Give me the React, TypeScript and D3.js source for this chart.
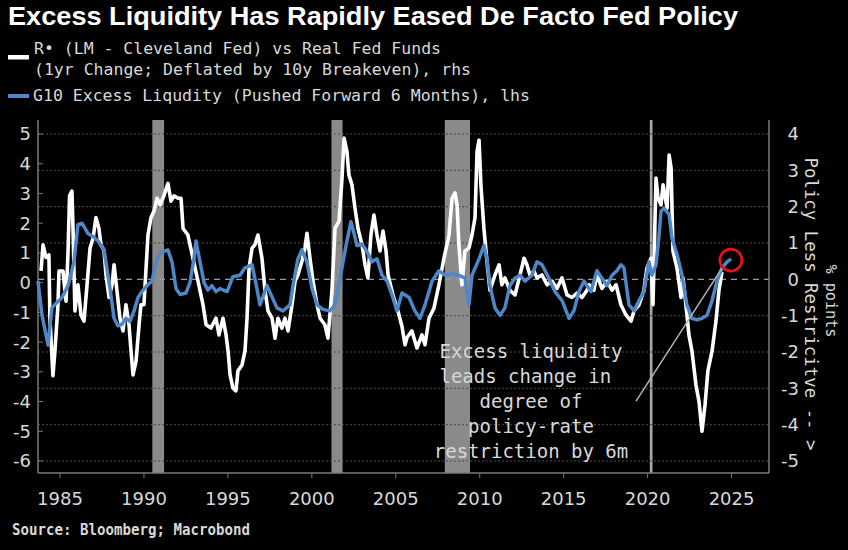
import React from "react";
import * as d3 from "d3";

const W = 848;
const H = 550;

const titleText = "Excess Liquidity Has Rapidly Eased De Facto Fed Policy";
const legendWhiteLines = ["R• (LM - Cleveland Fed) vs Real Fed Funds", "(1yr Change; Deflated by 10y Breakeven), rhs"];
const legendBlueText = "G10 Excess Liqudity (Pushed Forward 6 Months), lhs";
const sourceText = "Source: Bloomberg; Macrobond";
const annotationLines = ["Excess liquidity", "leads change in ", "degree of", "policy-rate", "restriction by 6m"];
const rightTitle = "Policy Less Restricitve -- >";
const rightUnit = "% points";

const yearTicks = [1985, 1990, 1995, 2000, 2005, 2010, 2015, 2020, 2025];
const leftTicks = [5, 4, 3, 2, 1, 0, -1, -2, -3, -4, -5, -6];
const rightTicks = [4, 3, 2, 1, 0, -1, -2, -3, -4, -5];

const recessionStarts = [1990.5, 2001.17, 2007.92, 2020.13];
const recessionEnds = [1991.2, 2001.83, 2009.42, 2020.29];

// G10 excess liquidity (pushed forward 6 months), left axis
const liquidityDates = [
  1983.69, 1983.93, 1984.29, 1984.52, 1984.76, 1985.12, 1985.48, 1985.83, 1986.07, 1986.31,
  1986.67, 1986.97, 1987.26, 1987.62, 1987.98, 1988.22, 1988.45, 1988.69, 1988.93, 1989.17,
  1989.41, 1989.65, 1989.88, 1990.18, 1990.48, 1990.72, 1990.96, 1991.19, 1991.43, 1991.67,
  1991.91, 1992.15, 1992.5, 1992.74, 1992.98, 1993.1, 1993.34, 1993.58, 1993.81, 1994.05,
  1994.29, 1994.53, 1994.95, 1995.3, 1995.72, 1996.02, 1996.44, 1996.73, 1996.91, 1997.33,
  1997.92, 1998.28, 1998.7, 1998.88, 1999.17, 1999.41, 1999.71, 2000.01, 2000.31, 2000.66,
  2001.08, 2001.38, 2001.68, 2002.09, 2002.33, 2002.45, 2002.69, 2002.99, 2003.28, 2003.58,
  2003.88, 2004.18, 2004.48, 2004.83, 2005.07, 2005.37, 2005.79, 2006.14, 2006.44, 2006.74,
  2007.16, 2007.57, 2007.93, 2008.35, 2008.76, 2009.12, 2009.36, 2009.54, 2009.96, 2010.25,
  2010.43, 2010.61, 2010.91, 2011.21, 2011.5, 2011.8, 2012.1, 2012.4, 2012.7, 2013.11,
  2013.41, 2013.71, 2014.12, 2014.48, 2014.9, 2015.32, 2015.61, 2015.91, 2016.21, 2016.63,
  2016.98, 2017.28, 2017.58, 2017.88, 2018.17, 2018.41, 2018.59, 2018.89, 2019.19, 2019.49,
  2019.78, 2020.08, 2020.26, 2020.5, 2020.68, 2020.8, 2020.98, 2021.28, 2021.45, 2021.75,
  2022.05, 2022.34, 2022.64, 2022.94, 2023.24, 2023.54, 2023.84, 2024.13, 2024.43, 2024.73,
  2024.97,
];
const liquidityValues = [
  0.05, -1.1, -2.1, -0.85, -0.7, -0.5, -0.1, 0.7, 1.95, 2.0,
  1.65, 1.55, 1.4, 1.1, -0.2, -1.2, -1.45, -1.4, -1.2, -1.3,
  -0.95, -0.5, -0.3, -0.1, 0.05, 0.7, 1.0, 1.05, 1.1, 0.7,
  -0.2, -0.4, -0.35, 0.0, 0.8, 1.4, 0.7, 0.0, -0.25, -0.1,
  -0.3, -0.2, -0.3, 0.2, 0.25, 0.5, 0.6, -0.2, -0.75, -0.1,
  -0.85, -0.95, -0.75, -0.1, 0.8, 1.1, 0.7, -0.2, -0.75, -0.9,
  -0.95, -0.75, 0.15, 1.4, 2.05, 1.8, 1.25, 1.3, 1.05, 0.7,
  0.8, 0.25, 0.05, -0.5, -0.95, -0.35, -0.5, -0.95, -1.2, -0.75,
  0.05, 0.4, 0.25, 0.3, 0.25, 0.15, -0.75, 0.25, 0.8, 1.25,
  0.8, -0.1, -0.85, -1.1, -0.85, -0.1, 0.15, 0.25, 0.05, 0.25,
  0.7, 0.6, 0.15, -0.3, -0.6, -1.2, -0.95, -0.3, 0.05, -0.3,
  0.4, 0.15, -0.1, 0.25, 0.4, 0.6, 0.5, -0.75, -0.95, -0.6,
  -0.3, 0.7, 0.25, 0.6, 1.6, 2.4, 2.5, 2.3, 1.5, 0.95,
  0.25, -0.75, -1.2, -1.25, -1.2, -1.1, -0.6, 0.05, 0.5, 0.7,
  0.8,
];

// R* vs real fed funds (1yr change), right axis
const rstarDates = [
  1983.87, 1983.99, 1984.17, 1984.34, 1984.4, 1984.58, 1984.7, 1984.88, 1984.94, 1985.18,
  1985.36, 1985.48, 1985.57, 1985.71, 1985.77, 1985.89, 1986.07, 1986.25, 1986.43, 1986.61,
  1986.79, 1986.97, 1987.14, 1987.32, 1987.44, 1987.62, 1987.74, 1987.92, 1988.1, 1988.22,
  1988.39, 1988.57, 1988.75, 1988.93, 1989.11, 1989.23, 1989.35, 1989.53, 1989.71, 1989.82,
  1990.0, 1990.24, 1990.42, 1990.6, 1990.78, 1990.96, 1991.19, 1991.43, 1991.61, 1991.79,
  1992.03, 1992.21, 1992.33, 1992.62, 1992.92, 1993.22, 1993.52, 1993.7, 1993.99, 1994.29,
  1994.47, 1994.71, 1994.89, 1995.01, 1995.13, 1995.3, 1995.48, 1995.6, 1995.84, 1996.02,
  1996.14, 1996.26, 1996.44, 1996.61, 1996.79, 1997.03, 1997.21, 1997.39, 1997.63, 1997.81,
  1997.98, 1998.22, 1998.4, 1998.58, 1998.82, 1999.0, 1999.17, 1999.41, 1999.59, 1999.71,
  1999.89, 2000.07, 2000.31, 2000.49, 2000.78, 2000.96, 2001.2, 2001.38, 2001.62, 2001.8,
  2001.92, 2002.09, 2002.21, 2002.39, 2002.57, 2002.75, 2002.99, 2003.17, 2003.34, 2003.52,
  2003.7, 2003.88, 2004.06, 2004.24, 2004.42, 2004.54, 2004.83, 2005.13, 2005.37, 2005.55,
  2005.67, 2005.96, 2006.26, 2006.56, 2006.74, 2006.98, 2007.27, 2007.57, 2007.87, 2008.17,
  2008.35, 2008.53, 2008.65, 2008.76, 2008.94, 2009.12, 2009.36, 2009.54, 2009.72, 2009.84,
  2009.96, 2010.07, 2010.25, 2010.43, 2010.61, 2010.91, 2011.15, 2011.32, 2011.5, 2011.8,
  2012.1, 2012.4, 2012.64, 2012.81, 2012.99, 2013.23, 2013.41, 2013.71, 2014.01, 2014.3,
  2014.6, 2014.9, 2015.2, 2015.49, 2015.79, 2016.09, 2016.39, 2016.51, 2016.8, 2016.98,
  2017.28, 2017.58, 2017.88, 2018.12, 2018.41, 2018.71, 2019.01, 2019.19, 2019.49, 2019.78,
  2019.96, 2020.2, 2020.32, 2020.5, 2020.62, 2020.8, 2020.92, 2021.16, 2021.28, 2021.4,
  2021.51, 2021.75, 2021.99, 2022.11, 2022.28, 2022.46, 2022.64, 2022.88, 2023.06, 2023.24,
  2023.42, 2023.59, 2023.84, 2024.07, 2024.25, 2024.43,
];
const rstarValues = [
  0.23, 0.95, 0.6, 0.67, -1.07, -2.65, -1.97, -0.7, 0.23, 0.23,
  -0.6, 0.78, 2.3, 2.43, 1.5, -0.87, -0.15, -0.98, -1.15, -0.15,
  0.86, 1.13, 1.7, 1.4, 0.95, 0.8, 0.12, -0.5, -0.15, 0.4,
  -0.3, -1.07, -1.42, -0.7, -1.25, -1.97, -2.63, -2.25, -1.25, -0.7,
  -0.7, 1.22, 1.7, 1.88, 2.23, 2.05, 2.3, 2.64, 2.15, 2.3,
  2.23, 2.23, 1.4, 1.22, 0.58, -0.05, -0.7, -1.25, -1.34, -1.07,
  -1.53, -1.07, -1.53, -1.97, -2.63, -2.99, -3.07, -2.52, -2.36, -1.97,
  -1.07, 0.31, 0.86, 0.95, 1.22, 0.58, -0.3, -0.87, -1.07, -1.62,
  -1.07, -1.34, -1.07, -1.42, -0.7, -0.05, 0.12, 0.5, 0.86, 1.27,
  0.58, -0.05, -0.7, -1.07, -1.25, -1.62, -0.3, 1.4, 1.6, 2.79,
  3.89, 3.52, 2.87, 2.6, 1.96, 1.4, 0.95, 0.4, 0.04, 1.22,
  1.77, 1.22, 0.78, 1.33, 0.78, 0.12, -0.43, -0.87, -1.3, -1.8,
  -1.6, -1.42, -1.89, -1.53, -1.8, -1.07, -0.8, -0.15, 0.58, 1.22,
  2.23, 2.38, 2.05, 0.95, -0.15, 0.78, 0.86, 1.22, 1.7, 3.52,
  3.83, 2.6, 1.4, 0.5, -0.3, 0.12, 0.4, -0.15, 0.04, -0.3,
  -0.43, 0.12, 0.58, 0.4, 0.12, 0.23, 0.04, 0.12, -0.15, -0.05,
  -0.25, 0.04, -0.43, -0.5, -0.38, -0.5, -0.3, -0.15, -0.3, 0.12,
  -0.25, -0.05, -0.3, -0.15, -0.7, -0.98, -1.15, -0.87, -0.7, -0.3,
  0.31, 0.58, -0.7, 2.79, 2.23, 2.05, 2.6, 1.96, 3.42, 3.06,
  0.78, 0.31, -0.5, 0.04, -0.7, -1.53, -1.97, -2.91, -3.36, -4.18,
  -3.45, -2.52, -1.97, -1.15, -0.3, 0.2,
];

// annotation anchors in data space
const calloutFrom = { date: 2019.31, value: -3.35 }; // right axis
const calloutTo = { date: 2024.43, value: 0.31 }; // right axis
const circleAt = { date: 2024.96, value: 0.76 }; // left axis

const PLOT = { left: 38, right: 769, top: 120, bottom: 473 };

export default function App() {
  const x = d3.scaleLinear().domain([1983.69, 2027.23]).range([PLOT.left, PLOT.right]);
  const yL = d3.scaleLinear().domain([-6, 5]).range([461, 134]);
  const yR = d3.scaleLinear().domain([-5, 4]).range([461, 134]);

  const liqLine = d3
    .line<number>()
    .x((_, i) => x(liquidityDates[i]))
    .y((d) => yL(d))(liquidityValues.slice(0, liquidityDates.length));
  const rLine = d3
    .line<number>()
    .x((_, i) => x(rstarDates[i]))
    .y((d) => yR(d))(rstarValues.slice(0, rstarDates.length));

  const mono = "'DejaVu Sans Mono', monospace";
  const sans = "'DejaVu Sans', sans-serif";
  const labelColor = "#d8d8d8";
  const axisColor = "#7a7a7a";

  return (
    <svg
      width={W}
      height={H}
      viewBox={`0 0 ${W} ${H}`}
      style={{ position: "absolute", left: 0, top: 0, display: "block", background: "#000" }}
    >
      <rect x={0} y={0} width={W} height={H} fill="#000" />

      {/* title */}
      <text
        x={8}
        y={25}
        fill="#fff"
        fontFamily="'Liberation Sans', Arial, sans-serif"
        fontWeight="bold"
        fontSize={25}
        textLength={730}
        lengthAdjust="spacingAndGlyphs"
      >
        {titleText}
      </text>

      {/* legend */}
      <rect x={8} y={55} width={21} height={4.5} fill="#fff" />
      <text x={34} y={54} fill={labelColor} fontFamily={mono} fontSize={16.5} textLength={407} lengthAdjust="spacingAndGlyphs">
        {legendWhiteLines[0]}
      </text>
      <text x={34} y={75} fill={labelColor} fontFamily={mono} fontSize={16.5} textLength={437} lengthAdjust="spacingAndGlyphs">
        {legendWhiteLines[1]}
      </text>
      <rect x={8} y={94} width={21} height={4} fill="#4f86c6" />
      <text x={33} y={101} fill={labelColor} fontFamily={mono} fontSize={16.5} textLength={497} lengthAdjust="spacingAndGlyphs">
        {legendBlueText}
      </text>

      {/* recession bars */}
      {recessionStarts.map((s, i) => (
        <rect
          key={"rec" + i}
          x={x(s)}
          y={PLOT.top}
          width={Math.max(2, x(recessionEnds[i]) - x(s))}
          height={PLOT.bottom - PLOT.top}
          fill={i === 3 ? "#a8a8a8" : "#8a8a8a"}
        />
      ))}

      {/* gridlines (right-axis integers) */}
      {rightTicks.map((t) => (
        <line
          key={"g" + t}
          x1={PLOT.left}
          x2={PLOT.right}
          y1={yR(t)}
          y2={yR(t)}
          stroke={t === 0 ? "#9a9a9a" : "#4a4a4a"}
          strokeWidth={t === 0 ? 1.3 : 1}
          strokeDasharray={t === 0 ? "6,5" : "2,2"}
        />
      ))}

      {/* axes */}
      <line x1={PLOT.left} x2={PLOT.left} y1={PLOT.top} y2={PLOT.bottom} stroke={axisColor} strokeWidth={1.5} />
      <line x1={PLOT.right} x2={PLOT.right} y1={PLOT.top} y2={PLOT.bottom} stroke={axisColor} strokeWidth={1.5} />
      <line x1={PLOT.left} x2={PLOT.right} y1={PLOT.bottom} y2={PLOT.bottom} stroke={axisColor} strokeWidth={1.5} />

      {leftTicks.map((t) => (
        <g key={"lt" + t}>
          <line x1={PLOT.left} x2={PLOT.left + 5} y1={yL(t)} y2={yL(t)} stroke={axisColor} strokeWidth={1} />
          <text x={31} y={yL(t)} dy="0.36em" textAnchor="end" fill={labelColor} fontFamily={sans} fontSize={18}>
            {t}
          </text>
        </g>
      ))}

      {rightTicks.map((t) => (
        <text key={"rt" + t} x={799} y={yR(t)} dy="0.36em" textAnchor="end" fill={labelColor} fontFamily={sans} fontSize={18}>
          {t}
        </text>
      ))}

      {yearTicks.map((yr) => (
        <g key={"x" + yr}>
          <line x1={x(yr)} x2={x(yr)} y1={PLOT.bottom} y2={PLOT.bottom + 5} stroke={axisColor} strokeWidth={1} />
          <text x={x(yr)} y={505} textAnchor="middle" fill={labelColor} fontFamily={sans} fontSize={18}>
            {yr}
          </text>
        </g>
      ))}

      {/* right axis title */}
      <text
        transform={`translate(811,304) rotate(90)`}
        textAnchor="middle"
        dy="0.35em"
        fill={labelColor}
        fontFamily={mono}
        fontSize={17}
        textLength={293}
        lengthAdjust="spacingAndGlyphs"
      >
        {rightTitle}
      </text>
      <text
        transform={`translate(831,301) rotate(90)`}
        textAnchor="middle"
        dy="0.35em"
        fill={labelColor}
        fontFamily={mono}
        fontSize={15}
        textLength={73}
        lengthAdjust="spacingAndGlyphs"
      >
        {rightUnit}
      </text>

      {/* series */}
      <path d={rLine || ""} fill="none" stroke="#ffffff" strokeWidth={3.6} strokeLinejoin="round" />
      <path d={liqLine || ""} fill="none" stroke="#4f86c6" strokeWidth={3.5} strokeLinejoin="round" />

      {/* annotation */}
      <line
        x1={x(calloutFrom.date)}
        y1={yR(calloutFrom.value)}
        x2={x(calloutTo.date)}
        y2={yR(calloutTo.value)}
        stroke="#b5b5b5"
        strokeWidth={1.5}
      />
      <circle cx={x(circleAt.date)} cy={yL(circleAt.value)} r={11} fill="none" stroke="#e3111b" strokeWidth={2.8} />
      {annotationLines.map((l, i) => (
        <text
          key={"an" + i}
          x={531}
          y={358 + i * 25}
          textAnchor="middle"
          fill={labelColor}
          fontFamily={mono}
          fontSize={19}
          style={{ whiteSpace: "pre" }}
        >
          {l}
        </text>
      ))}

      {/* source */}
      <text x={12} y={535} fill={labelColor} fontFamily={mono} fontWeight="bold" fontSize={15} textLength={238} lengthAdjust="spacingAndGlyphs">
        {sourceText}
      </text>
    </svg>
  );
}
